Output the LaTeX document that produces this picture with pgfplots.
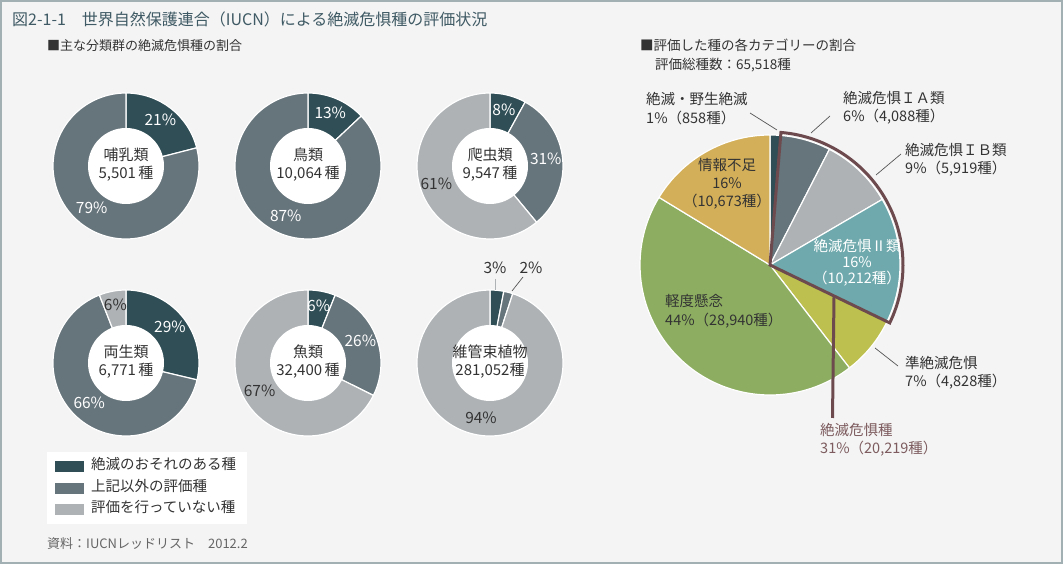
\documentclass[border=0pt]{standalone}
\usepackage{pgfplots}
\pgfplotsset{compat=1.18}
\usepackage{pgfplotstable}
\usepackage{fontspec}
\setmainfont{Noto Sans CJK JP}

\definecolor{cBg}{HTML}{F4F4F4}
\definecolor{cFrame}{HTML}{A3B0B3}
\definecolor{cTitle}{HTML}{3F5A64}
\definecolor{cText}{HTML}{333333}
\definecolor{cDark}{HTML}{2F4E56}
\definecolor{cMid}{HTML}{66747B}
\definecolor{cLight}{HTML}{AEB2B5}
\definecolor{cEX}{HTML}{2F4E56}
\definecolor{cCR}{HTML}{66747B}
\definecolor{cEN}{HTML}{AEB2B5}
\definecolor{cVU}{HTML}{6FA9AD}
\definecolor{cNT}{HTML}{BDBF4F}
\definecolor{cLC}{HTML}{8DAE61}
\definecolor{cDD}{HTML}{D3AF59}
\definecolor{cOut}{HTML}{6D4A4D}
\definecolor{cOutText}{HTML}{7D5B5E}
\definecolor{cNote}{HTML}{666666}
\definecolor{cLead}{HTML}{555555}

% donut charts: centre (in px, y up), shares in %
\pgfplotstableread{
cx cy dark mid light
126 398 21 79 0
308 398 13 87 0
490 398 8 31 61
126 201 29 66 6
308 201 6 26 67
490 201 3 2 94
}\donuts

\pgfplotstableread{
count col
858 cEX
4088 cCR
5919 cEN
10212 cVU
4828 cNT
28940 cLC
10673 cDD
}\pietab

\newcommand\pieSlice[6]{%
  \filldraw[fill=#6,draw=white,line width=1.2bp,line join=round]
    (axis cs:#1,#2) -- ++(#3:#5) arc[start angle=#3,end angle=#4,radius=#5] -- cycle;}

\tikzset{
  lab/.style={inner sep=0pt,text height=.88em,text depth=.12em,text=cText,
     font=\fontsize{14.5bp}{19bp}\selectfont},
  pct/.style={inner sep=0pt,text height=.75em,text depth=0em,
     font=\fontsize{15.5bp}{19bp}\selectfont},
  ctr/.style={inner sep=0pt,text height=.88em,text depth=.12em,text=cText,
     font=\fontsize{15bp}{19bp}\selectfont},
}

\begin{document}
\begin{tikzpicture}
\begin{axis}[x=1bp,y=1bp,xmin=0,xmax=1063,ymin=0,ymax=564,
  hide axis,clip=false,scale only axis]
\addplot[draw=none] coordinates {(0,0) (1063,564)};
\pgfplotsextra{%
  % background and frame
  \fill[cBg] (axis cs:0,0) rectangle (axis cs:1063,564);
  \draw[cFrame,line width=2bp] (axis cs:1,1) rectangle (axis cs:1062,563);
  % titles
  \node[lab,anchor=west,text=cTitle,font=\fontsize{16bp}{19bp}\selectfont]
    at (axis cs:12,{564-22}) {図2-1-1　世界自然保護連合（IUCN）による絶滅危惧種の評価状況};
  \node[lab,anchor=west,font=\fontsize{13bp}{16bp}\selectfont]
    at (axis cs:47,{564-47}) {■主な分類群の絶滅危惧種の割合};
  \node[lab,anchor=west,font=\fontsize{13.5bp}{16bp}\selectfont]
    at (axis cs:640,{564-47}) {■評価した種の各カテゴリーの割合};
  \node[lab,anchor=west,font=\fontsize{13.5bp}{16bp}\selectfont]
    at (axis cs:655,{564-66}) {評価総種数：65,518種};
  % ---------------- donuts ----------------
  \pgfplotsforeachungrouped \i in {0,...,5}{%
    \pgfplotstablegetelem{\i}{cx}\of\donuts \let\cx\pgfplotsretval
    \pgfplotstablegetelem{\i}{cy}\of\donuts \let\cy\pgfplotsretval
    \pgfplotstablegetelem{\i}{dark}\of\donuts \let\va\pgfplotsretval
    \pgfplotstablegetelem{\i}{mid}\of\donuts \let\vb\pgfplotsretval
    \pgfplotstablegetelem{\i}{light}\of\donuts \let\vc\pgfplotsretval
    \edef\tot{\fpeval{\va+\vb+\vc}}%
    \edef\aB{\fpeval{round(90-360*\va/\tot,4)}}%
    \edef\aC{\fpeval{round(\aB-360*\vb/\tot,4)}}%
    \pieSlice{\cx}{\cy}{90}{\aB}{73bp}{cDark}%
    \pieSlice{\cx}{\cy}{\aB}{\aC}{73bp}{cMid}%
    \ifdim\vc pt>0pt \pieSlice{\cx}{\cy}{\aC}{-270}{73bp}{cLight}\fi
    \fill[white] (axis cs:\cx,\cy) circle[radius=38bp];
    \edef\mA{\fpeval{(90+\aB)/2}}%
    \edef\mB{\fpeval{(\aB+\aC)/2}}%
    \edef\mC{\fpeval{(\aC-270)/2}}%
    \ifdim\va pt>4pt \path (axis cs:\cx,\cy) ++(\mA:56bp) node[pct,text=white] {\va\%};\fi
    \ifdim\vb pt>4pt \path (axis cs:\cx,\cy) ++(\mB:56bp) node[pct,text=white] {\vb\%};\fi
    \ifdim\vc pt>0pt \path (axis cs:\cx,\cy) ++(\mC:57bp) node[pct,text=cText] {\vc\%};\fi
  }
  % small wedges of vascular plants: outside labels
  \draw[cLight,line width=1bp] (axis cs:495,{564-279}) -- (axis cs:495,{564-290});
  \draw[cLead,line width=0.7bp] (axis cs:523,{564-277}) -- (axis cs:512,{564-291});
  \node[pct,text=cText] at (axis cs:495,{564-270}) {3\%};
  \node[pct,text=cText] at (axis cs:531,{564-270}) {2\%};
  % donut centre texts
  \node[ctr] at (axis cs:126,{564-157}) {哺乳類};
  \node[ctr] at (axis cs:126,{564-175}) {5,501\,種};
  \node[ctr] at (axis cs:308,{564-157}) {鳥類};
  \node[ctr] at (axis cs:308,{564-175}) {10,064\,種};
  \node[ctr] at (axis cs:490,{564-157}) {爬虫類};
  \node[ctr] at (axis cs:490,{564-175}) {9,547\,種};
  \node[ctr] at (axis cs:126,{564-354}) {両生類};
  \node[ctr] at (axis cs:126,{564-372}) {6,771\,種};
  \node[ctr] at (axis cs:308,{564-354}) {魚類};
  \node[ctr] at (axis cs:308,{564-372}) {32,400\,種};
  \node[ctr] at (axis cs:490,{564-354}) {維管束植物};
  \node[ctr] at (axis cs:490,{564-372}) {281,052種};
  % legend
  \fill[white] (axis cs:47,{564-452}) rectangle (axis cs:247,{564-524});
  \fill[cDark] (axis cs:55,{564-461}) rectangle (axis cs:84,{564-472});
  \fill[cMid] (axis cs:55,{564-483}) rectangle (axis cs:84,{564-494});
  \fill[cLight] (axis cs:55,{564-504}) rectangle (axis cs:84,{564-515});
  \node[lab,anchor=west] at (axis cs:91,{564-466}) {絶滅のおそれのある種};
  \node[lab,anchor=west] at (axis cs:91,{564-488}) {上記以外の評価種};
  \node[lab,anchor=west] at (axis cs:91,{564-509}) {評価を行っていない種};
  \node[lab,anchor=west,text=cNote,font=\fontsize{13bp}{16bp}\selectfont]
    at (axis cs:47,{564-545}) {資料：IUCNレッドリスト　2012.2};
  % ---------------- big pie ----------------
  \def\pcx{770}\def\pcy{299}%
  \def\ptot{65518}%
  \def\acc{0}%
  \pgfplotsforeachungrouped \j in {0,...,6}{%
    \pgfplotstablegetelem{\j}{count}\of\pietab \let\cnt\pgfplotsretval
    \pgfplotstablegetelem{\j}{col}\of\pietab \let\col\pgfplotsretval
    \edef\sA{\fpeval{round(90-360*\acc/\ptot,4)}}%
    \edef\acc{\fpeval{\acc+\cnt}}%
    \edef\sB{\fpeval{round(90-360*\acc/\ptot,4)}}%
    \pieSlice{\pcx}{\pcy}{\sA}{\sB}{130bp}{\col}%
    \ifnum\j=0 \global\let\thrA\sB\fi
    \ifnum\j=3 \global\let\thrB\sB\fi
  }
  % outline of threatened categories
  \draw[cOut,line width=3bp,line join=miter]
    (axis cs:\pcx,\pcy) -- ++(\thrA:133bp) arc[start angle=\thrA,end angle=\thrB,radius=133bp] -- cycle;
  \draw[cOut,line width=3bp] (axis cs:834,{564-297}) -- (axis cs:832.5,{564-418});
  % leader lines
  \draw[cLead,line width=0.7bp] (axis cs:750,{564-113}) -- (axis cs:777,{564-130});
  \draw[cLead,line width=0.7bp] (axis cs:830,{564-116}) -- (axis cs:811,{564-133});
  \draw[cLead,line width=0.7bp] (axis cs:901,{564-154}) -- (axis cs:876,{564-175});
  \draw[cLead,line width=0.7bp] (axis cs:898,{564-366}) -- (axis cs:875,{564-348});
  % pie labels
  \node[lab,anchor=west] at (axis cs:646,{564-101}) {絶滅・野生絶滅};
  \node[lab,anchor=west] at (axis cs:646,{564-120}) {1\%（858種）};
  \node[lab,anchor=west] at (axis cs:843,{564-100}) {絶滅危惧ＩＡ類};
  \node[lab,anchor=west] at (axis cs:843,{564-118}) {6\%（4,088種）};
  \node[lab,anchor=west] at (axis cs:905,{564-152}) {絶滅危惧ＩＢ類};
  \node[lab,anchor=west] at (axis cs:905,{564-170}) {9\%（5,919種）};
  \node[lab,anchor=west] at (axis cs:905,{564-365}) {準絶滅危惧};
  \node[lab,anchor=west] at (axis cs:905,{564-383}) {7\%（4,828種）};
  \node[lab,anchor=west,text=cOutText] at (axis cs:820,{564-432}) {絶滅危惧種};
  \node[lab,anchor=west,text=cOutText] at (axis cs:820,{564-450}) {31\%（20,219種）};
  \node[lab] at (axis cs:727,{564-167}) {情報不足};
  \node[lab] at (axis cs:727,{564-185}) {16\%};
  \node[lab] at (axis cs:727,{564-203}) {（10,673種）};
  \node[lab,text=white] at (axis cs:857,{564-248}) {絶滅危惧Ⅱ類};
  \node[lab,text=white] at (axis cs:857,{564-264}) {16\%};
  \node[lab,text=white] at (axis cs:857,{564-280}) {（10,212種）};
  \node[lab,anchor=west] at (axis cs:665,{564-303}) {軽度懸念};
  \node[lab,anchor=west] at (axis cs:665,{564-322}) {44\%（28,940種）};
}
\end{axis}
\end{tikzpicture}
\end{document}
